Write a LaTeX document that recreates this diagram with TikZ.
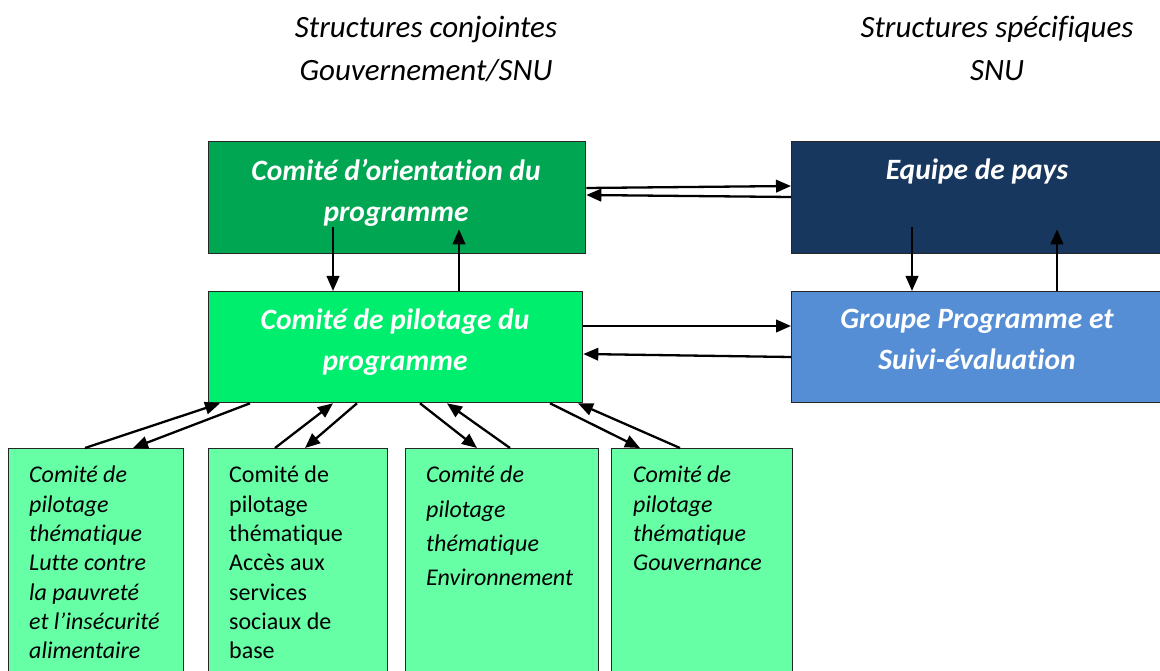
\documentclass[tikz,border=0pt]{standalone}
\usepackage{fontspec}
\setmainfont[Ligatures={NoCommon,TeX}]{Carlito}
\usetikzlibrary{arrows.meta}
\definecolor{orientc}{HTML}{00A651}
\definecolor{equipec}{HTML}{17375E}
\definecolor{pilotc}{HTML}{00EE6E}
\definecolor{groupec}{HTML}{558ED5}
\definecolor{themec}{HTML}{66FFA6}
\tikzset{
  box/.style={draw=black!85, line width=1.3pt, rectangle, inner sep=0pt, anchor=north west},
  toptext/.style={text=white, font=\fontsize{29.5}{41}\selectfont\bfseries\itshape, align=center, anchor=north, inner sep=0pt},
  themetext/.style={font=\fontsize{24}{29.3}\selectfont, align=left, anchor=north west, inner sep=0pt},
  headtext/.style={font=\fontsize{31}{43}\selectfont\itshape, align=center, anchor=north, inner sep=0pt},
  arr/.style={line width=2.3pt, -{Triangle[length=15pt,width=12.5pt]}}
}
\begin{document}
\begin{tikzpicture}[x=1pt,y=-1pt]
\clip (0,0) rectangle (1160,671);
\fill[white] (0,0) rectangle (1160,671);
% headings
\node[headtext] (h1) at (426,16) {Structures conjointes\\Gouvernement/SNU};
\node[headtext] (h2) at (997,16) {Structures spécifiques\\SNU};
% boxes
\node[box, fill=orientc, minimum width=377pt, minimum height=112pt] (orient) at (208,141) {};
\node[box, fill=equipec, minimum width=375pt, minimum height=112pt] (equipe) at (791,141) {};
\node[box, fill=pilotc, minimum width=374pt, minimum height=111pt] (pilot) at (208,291) {};
\node[box, fill=groupec, minimum width=375pt, minimum height=111pt] (groupe) at (791,291) {};
\node[box, fill=themec, minimum width=175pt, minimum height=240pt] (t1) at (8,448) {};
\node[box, fill=themec, minimum width=179pt, minimum height=240pt] (t2) at (208,448) {};
\node[box, fill=themec, minimum width=193pt, minimum height=240pt] (t3) at (405,448) {};
\node[box, fill=themec, minimum width=181pt, minimum height=240pt] (t4) at (611,448) {};
% box texts
\node[toptext] (orientT) at (396,159) {Comité d’orientation du\\programme};
\node[toptext] (equipeT) at (977,159) {Equipe de pays};
\node[toptext] (pilotT) at (395,309) {Comité de pilotage du\\programme};
\node[toptext] (groupeT) at (977,309) {Groupe Programme et\\Suivi-évaluation};
\node[themetext, font=\fontsize{24}{29.3}\selectfont\itshape] (t1T) at (29,466) {Comité de\\pilotage\\thématique\\Lutte contre\\la pauvreté\\et l’insécurité\\alimentaire};
\node[themetext] (t2T) at (229,466) {Comité de\\pilotage\\thématique\\Accès aux\\services\\sociaux de\\base};
\node[themetext, font=\fontsize{24}{34.3}\selectfont\itshape] (t3T) at (426,466) {Comité de\\pilotage\\thématique\\Environnement};
\node[themetext, font=\fontsize{24}{29.3}\selectfont\itshape] (t4T) at (633,466) {Comité de\\pilotage\\thématique\\Gouvernance};
% vertical arrows
\draw[arr] ([xshift=125pt,yshift=27pt]orient.south west) -- ([xshift=125pt]pilot.north west);
\draw[arr] ([xshift=251pt]pilot.north west) -- ([xshift=251pt,yshift=25pt]orient.south west);
\draw[arr] ([xshift=121pt,yshift=27pt]equipe.south west) -- ([xshift=121pt]groupe.north west);
\draw[arr] ([xshift=266pt]groupe.north west) -- ([xshift=266pt,yshift=25pt]equipe.south west);
% horizontal arrows
\draw[arr] ([yshift=-47pt]orient.north east) -- ([yshift=-45pt]equipe.north west);
\draw[arr] ([yshift=-56pt]equipe.north west) -- ([yshift=-54pt]orient.north east);
\draw[arr] ([yshift=-35pt]pilot.north east) -- ([yshift=-35pt]groupe.north west);
\draw[arr] ([yshift=-66pt]groupe.north west) -- ([yshift=-63pt]pilot.north east);
% bottom arrows
\draw[arr] ([xshift=77pt]t1.north west) -- ([xshift=12pt]pilot.south west);
\draw[arr] ([xshift=42pt]pilot.south west) -- ([xshift=125pt]t1.north west);
\draw[arr] ([xshift=67pt]t2.north west) -- ([xshift=125pt]pilot.south west);
\draw[arr] ([xshift=149pt]pilot.south west) -- ([xshift=97pt]t2.north west);
\draw[arr] ([xshift=212pt]pilot.south west) -- ([xshift=72pt]t3.north west);
\draw[arr] ([xshift=105pt]t3.north west) -- ([xshift=239pt]pilot.south west);
\draw[arr] ([xshift=342pt]pilot.south west) -- ([xshift=29pt]t4.north west);
\draw[arr] ([xshift=69pt]t4.north west) -- ([xshift=370pt]pilot.south west);
\end{tikzpicture}
\end{document}
